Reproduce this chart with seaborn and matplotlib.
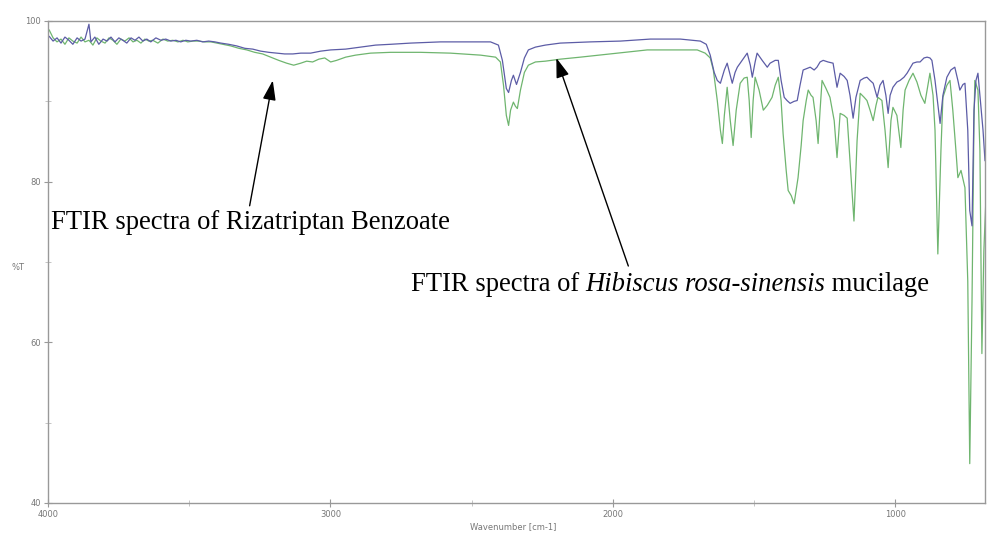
import numpy as np
import pandas as pd
import matplotlib
matplotlib.use("Agg")
import matplotlib.pyplot as plt
import seaborn as sns

# ---- data (wavenumber cm-1, %T) ----
blue_wn = [3996, 3982, 3968, 3954, 3940, 3926, 3912, 3897, 3883, 3869, 3855, 3848, 3834, 3820, 3805, 3791,
           3777, 3763, 3749, 3735, 3721, 3706, 3692, 3678, 3664, 3650, 3636, 3618, 3600, 3583, 3565, 3547,
           3530, 3512, 3494, 3473, 3452, 3431, 3409, 3388, 3360, 3332, 3303, 3275, 3247, 3218, 3190, 3162,
           3133, 3105, 3070, 3034, 2999, 2946, 2893, 2840, 2787, 2716, 2610, 2504, 2433, 2405, 2391, 2377,
           2369, 2359, 2352, 2341, 2327, 2313, 2299, 2274, 2239, 2186, 2079, 1973, 1867, 1761, 1690, 1669,
           1655, 1641, 1630, 1619, 1605, 1595, 1584, 1577, 1567, 1559, 1542, 1524, 1513, 1506, 1496, 1489,
           1471, 1453, 1443, 1425, 1414, 1404, 1393, 1383, 1372, 1358, 1347, 1337, 1326, 1312, 1301, 1287,
           1277, 1266, 1255, 1238, 1220, 1206, 1195, 1181, 1170, 1160, 1149, 1139, 1124, 1110, 1100, 1089,
           1078, 1064, 1054, 1043, 1033, 1025, 1018, 1008, 994, 983, 969, 958, 948, 937, 923, 912, 898, 887,
           877, 870, 859, 852, 841, 831, 817, 803, 789, 778, 771, 760, 753, 743, 736, 728, 721, 714, 707,
           700, 689, 682]
blue_t = [98.1, 97.5, 97.9, 97.25, 98.0, 97.6, 97.1, 97.9, 97.5, 97.75, 99.6, 97.4, 98.0, 97.1, 97.75, 97.5,
          98.0, 97.4, 97.9, 97.6, 97.25, 97.9, 97.6, 98.0, 97.5, 97.75, 97.4, 97.9, 97.6, 97.75, 97.5, 97.6,
          97.4, 97.6, 97.5, 97.6, 97.4, 97.5, 97.4, 97.25, 97.1, 96.9, 96.6, 96.5, 96.25, 96.1, 96.0, 95.9,
          95.9, 96.0, 96.0, 96.25, 96.4, 96.5, 96.75, 97.0, 97.1, 97.25, 97.4, 97.4, 97.4, 97.0, 95.1, 91.6,
          91.1, 92.6, 93.25, 92.1, 93.6, 95.4, 96.4, 96.75, 97.0, 97.25, 97.4, 97.5, 97.75, 97.75, 97.5, 97.1,
          95.75, 93.6, 92.6, 92.25, 93.9, 94.75, 93.25, 92.25, 93.6, 94.25, 95.1, 96.0, 94.5, 93.0, 94.9, 96.0,
          95.1, 94.25, 94.75, 95.1, 95.1, 92.6, 90.5, 90.1, 89.75, 90.0, 90.1, 92.0, 93.9, 94.1, 94.25, 93.9,
          94.25, 94.9, 95.1, 94.9, 94.75, 91.75, 93.5, 93.1, 92.6, 90.75, 87.9, 90.5, 92.6, 92.9, 93.0, 92.6,
          92.25, 90.5, 92.0, 92.6, 90.75, 88.5, 90.75, 91.75, 92.4, 92.6, 93.0, 93.5, 94.1, 94.75, 94.9, 94.9,
          95.4, 95.5, 95.4, 95.1, 92.6, 90.5, 87.25, 90.75, 93.0, 93.9, 94.25, 92.6, 91.4, 92.1, 92.25, 86.4,
          76.4, 74.5, 88.9, 92.6, 93.5, 90.75, 86.4, 82.6]

green_wn = [3996, 3982, 3968, 3954, 3940, 3926, 3912, 3897, 3883, 3869, 3855, 3841, 3827, 3813, 3798, 3784,
            3770, 3756, 3742, 3728, 3713, 3699, 3685, 3671, 3657, 3643, 3629, 3611, 3593, 3576, 3558, 3540,
            3522, 3505, 3487, 3466, 3445, 3423, 3402, 3381, 3353, 3324, 3296, 3268, 3240, 3211, 3183, 3155,
            3130, 3105, 3084, 3063, 3041, 3020, 2999, 2978, 2946, 2911, 2858, 2787, 2681, 2575, 2468, 2415,
            2398, 2387, 2377, 2369, 2362, 2352, 2345, 2338, 2327, 2313, 2299, 2274, 2239, 2186, 2115, 2009,
            1878, 1761, 1701, 1673, 1655, 1644, 1630, 1619, 1612, 1605, 1595, 1584, 1574, 1563, 1549, 1535,
            1524, 1517, 1510, 1503, 1496, 1482, 1467, 1453, 1436, 1425, 1414, 1404, 1397, 1386, 1379, 1368,
            1358, 1351, 1344, 1333, 1326, 1315, 1308, 1298, 1291, 1280, 1273, 1266, 1259, 1245, 1231, 1216,
            1206, 1195, 1181, 1170, 1160, 1146, 1135, 1124, 1110, 1100, 1089, 1078, 1068, 1061, 1047, 1036,
            1025, 1015, 1008, 994, 980, 972, 965, 951, 937, 923, 909, 895, 884, 877, 866, 859, 849, 838, 831,
            817, 806, 796, 785, 778, 767, 753, 743, 736, 728, 721, 718, 707, 700, 693, 686, 679]
green_t = [98.9, 97.9, 97.4, 97.75, 97.1, 97.9, 97.5, 97.25, 98.0, 97.4, 97.6, 97.0, 97.9, 97.5, 97.25, 97.9,
           97.6, 97.1, 97.75, 97.5, 97.9, 97.4, 97.6, 97.25, 97.75, 97.5, 97.6, 97.25, 97.75, 97.5, 97.6, 97.4,
           97.6, 97.4, 97.5, 97.5, 97.4, 97.4, 97.25, 97.1, 96.9, 96.6, 96.4, 96.1, 95.9, 95.5, 95.1, 94.75,
           94.5, 94.75, 95.0, 94.9, 95.25, 95.4, 94.9, 95.1, 95.5, 95.75, 96.0, 96.1, 96.1, 96.0, 95.75, 95.5,
           94.9, 92.0, 88.25, 87.0, 88.9, 89.9, 89.4, 89.1, 91.4, 93.6, 94.5, 94.9, 95.0, 95.25, 95.5, 95.9,
           96.4, 96.4, 96.4, 96.0, 95.4, 93.9, 90.1, 86.4, 84.75, 88.25, 91.75, 87.6, 84.5, 88.9, 92.25, 92.9,
           93.0, 90.1, 85.5, 90.1, 93.0, 91.4, 88.9, 89.5, 90.5, 92.0, 93.0, 90.1, 86.0, 81.4, 78.9, 78.25,
           77.25, 78.9, 80.5, 84.5, 87.6, 90.1, 91.4, 90.75, 90.5, 87.6, 84.75, 88.9, 92.6, 91.6, 90.5, 87.6,
           83.0, 88.5, 88.25, 87.9, 82.6, 75.1, 85.1, 91.0, 90.5, 90.1, 88.9, 87.6, 89.5, 90.5, 90.1, 86.4,
           81.75, 87.6, 89.25, 88.25, 84.25, 88.9, 91.4, 92.6, 93.5, 92.4, 90.75, 89.75, 92.0, 93.5, 90.75, 86.4, 71.0, 83.9, 90.5,
           92.0, 92.6, 88.9, 83.9, 80.5, 81.4, 79.25, 67.6, 44.9, 65.1, 87.6, 92.6, 91.4, 83.9, 58.6, 71.4, 77.6]

y_ticks = [40, 60, 80, 100]
x_ticks = [4000, 3000, 2000, 1000]
x_tick_labels = ["4000", "3000", "2000", "1000"]

label_riza = "FTIR spectra of Rizatriptan Benzoate"
label_hib_pre = "FTIR spectra of "
label_hib_it = "Hibiscus rosa-sinensis"
label_hib_post = " mucilage"

# ---- plotting ----
sns.set_style("white")
plt.rcParams['font.family'] = ['DejaVu Sans']

fig = plt.figure(figsize=(9.89, 5.34), dpi=100)
ax = fig.add_axes([48 / 989, 1 - 503 / 534, (985 - 48) / 989, (503 - 21) / 534])

df_g = pd.DataFrame({"wn": green_wn, "T": green_t})
df_b = pd.DataFrame({"wn": blue_wn, "T": blue_t})
sns.lineplot(data=df_g, x="wn", y="T", ax=ax, color="#6fb56f", lw=0.9, estimator=None, sort=False)
sns.lineplot(data=df_b, x="wn", y="T", ax=ax, color="#5c5ca6", lw=0.9, estimator=None, sort=False)

ax.set_xlim(4000, 682)
ax.set_ylim(40, 100)
ax.set_xticks(x_ticks)
ax.set_xticklabels(x_tick_labels)
ax.set_yticks(y_ticks)
ax.set_xticks([3500, 2500, 1500], minor=True)
ax.set_yticks([50, 70, 90], minor=True)
ax.tick_params(axis="both", which="major", direction="inout", length=6, width=0.8, color="#999999",
               labelsize=6, labelcolor="#777777", pad=2)
ax.tick_params(axis="both", which="minor", direction="inout", length=4, width=0.6, color="#bbbbbb")
ax.tick_params(axis="both", which="both", bottom=True, left=True)
for s in ax.spines.values():
    s.set_color("#999999")
    s.set_linewidth(1.0)
    s.set_visible(True)

ax.set_xlabel("")
ax.set_ylabel("")
fig.text(513 / 989, 1 - 527 / 534, "Wavenumber [cm-1]", fontsize=6, color="#777777", ha="center", va="center")
fig.text(18 / 989, 1 - 268 / 534, "%T", fontsize=6, color="#777777", ha="center", va="center")

serif = ["Liberation Serif", "DejaVu Serif"]
fs = 19.2
ax.text(3989, 74.9, label_riza, fontsize=fs, family=serif, ha="left", va="center", color="black")
t1 = ax.text(2716, 67.25, label_hib_pre, fontsize=fs, family=serif, ha="left", va="center", color="black")
t2 = ax.annotate(label_hib_it, xy=(1, 0), xycoords=t1, ha="left", va="bottom", fontsize=fs,
                 family=serif, style="italic", color="black")
ax.annotate(label_hib_post, xy=(1, 0), xycoords=t2, ha="left", va="bottom", fontsize=fs,
            family=serif, color="black")

arrow = dict(arrowstyle="-|>,head_length=1.2,head_width=0.4", color="black", lw=1.0, shrinkA=0, shrinkB=0)
ax.annotate("", xy=(3204, 92.6), xytext=(3286, 77.0), arrowprops=arrow)
ax.annotate("", xy=(2200, 95.4), xytext=(1945, 69.5), arrowprops=arrow)

fig.savefig("out.png", dpi=100, facecolor="white")
